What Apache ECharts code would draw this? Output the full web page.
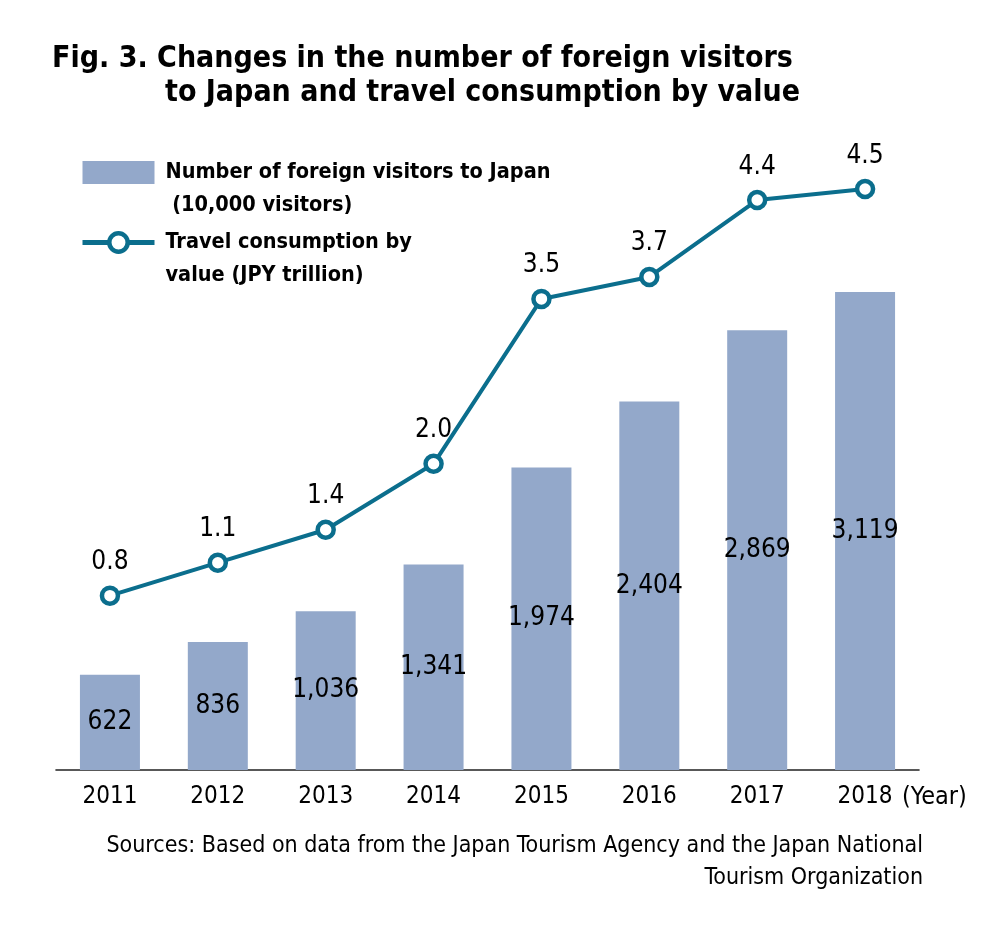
<!DOCTYPE html>
<html>
<head>
<meta charset="utf-8">
<title>Fig. 3</title>
<script src="https://cdn.jsdelivr.net/npm/echarts@6/dist/echarts.min.js"></script>
<style>
    html, body { margin: 0; padding: 0; background: #fff; }
    #chart { width: 1006px; height: 943px; }
</style>
</head>
<body>
<div id="chart"></div>
<script>
var years = ['2011', '2012', '2013', '2014', '2015', '2016', '2017', '2018'];
var visitors = [622, 836, 1036, 1341, 1974, 2404, 2869, 3119];      // 10,000 visitors
var consumption = [0.8, 1.1, 1.4, 2.0, 3.5, 3.7, 4.4, 4.5];        // JPY trillion

var visitorsName = 'Number of foreign visitors to Japan';
var consumptionName = 'Travel consumption by value';
var legendText = {};
legendText[visitorsName] = 'Number of foreign visitors to Japan\n (10,000 visitors)';
legendText[consumptionName] = 'Travel consumption by\nvalue (JPY trillion)';

var NARROW = "'DejaVu Sans Condensed', 'DejaVu Sans', sans-serif";
var BAR_COLOR = '#93a8ca';
var LINE_COLOR = '#0b6e8d';

function fmtThousands(v) {
    return Number(v).toLocaleString('en-US');
}

var option = {
    backgroundColor: '#fff',
    animation: false,
    textStyle: { fontFamily: NARROW, color: '#000' },
    title: [{
        text: 'Fig. 3. Changes in the number of foreign visitors',
        left: 52, top: 44,
        padding: 0,
        textStyle: { fontFamily: NARROW, fontWeight: 'bold', fontSize: 30, color: '#000' }
    }, {
        text: 'to Japan and travel consumption by value',
        left: 165, top: 78,
        padding: 0,
        textStyle: { fontFamily: NARROW, fontWeight: 'bold', fontSize: 30, color: '#000' }
    }, {
        // right-aligned source note, anchored at its right edge
        text: 'Sources: Based on data from the Japan Tourism Agency and the Japan National\nTourism Organization',
        left: 923, top: 830,
        padding: 0,
        textAlign: 'right',
        textStyle: { fontFamily: NARROW, fontWeight: 'normal', fontSize: 23, lineHeight: 32, color: '#000' }
    }],
    legend: {
        orient: 'vertical',
        left: 80, top: 123,
        padding: 0,
        itemWidth: 72, itemHeight: 23,
        itemGap: -29,
        selectedMode: false,
        formatter: function (name) {
            // blank first line keeps the icon level with the first text line
            return '\n' + legendText[name];
        },
        textStyle: { fontFamily: NARROW, fontWeight: 'bold', fontSize: 21.5, lineHeight: 33, color: '#000', padding: [0, 0, 0, 6] },
        data: [
            { name: visitorsName, icon: 'rect', itemStyle: { color: BAR_COLOR } },
            {
                name: consumptionName,
                itemStyle: { color: '#fff', borderColor: LINE_COLOR, borderWidth: 4.5 },
                lineStyle: { color: LINE_COLOR, width: 5 }
            }
        ]
    },
    grid: { left: 56, right: 87, top: 150, bottom: 173 },
    xAxis: {
        type: 'category',
        data: years,
        name: '(Year)',
        nameLocation: 'end',
        nameGap: -17,
        nameTextStyle: { fontFamily: NARROW, fontSize: 25, color: '#000', align: 'left', verticalAlign: 'top', lineHeight: 54 },
        axisLine: { lineStyle: { color: '#222', width: 1.6 } },
        axisTick: { show: false },
        axisLabel: { fontFamily: NARROW, fontSize: 24, color: '#000', margin: 15 }
    },
    yAxis: [{
        type: 'value', min: 0, max: 4045.6, show: false, splitLine: { show: false }
    }, {
        type: 'value', min: -0.786, max: 4.855, show: false, splitLine: { show: false }
    }],
    series: [{
        name: visitorsName,
        type: 'bar',
        data: visitors,
        yAxisIndex: 0,
        barWidth: 60,
        itemStyle: { color: BAR_COLOR },
        label: {
            show: true, position: 'inside',
            fontFamily: NARROW, fontSize: 26, color: '#000',
            formatter: function (p) { return fmtThousands(p.value); }
        }
    }, {
        name: consumptionName,
        type: 'line',
        data: consumption,
        yAxisIndex: 1,
        symbol: 'circle',
        symbolSize: 16,
        lineStyle: { color: LINE_COLOR, width: 4 },
        itemStyle: { color: '#fff', borderColor: LINE_COLOR, borderWidth: 4.5 },
        label: {
            show: true, position: 'top', distance: 10,
            fontFamily: NARROW, fontSize: 26, color: '#000',
            formatter: function (p) { return p.value.toFixed(1); }
        },
        z: 3
    }]
};

var chart = echarts.init(document.getElementById('chart'), null, { renderer: 'canvas' });
chart.setOption(option);
</script>
</body>
</html>
